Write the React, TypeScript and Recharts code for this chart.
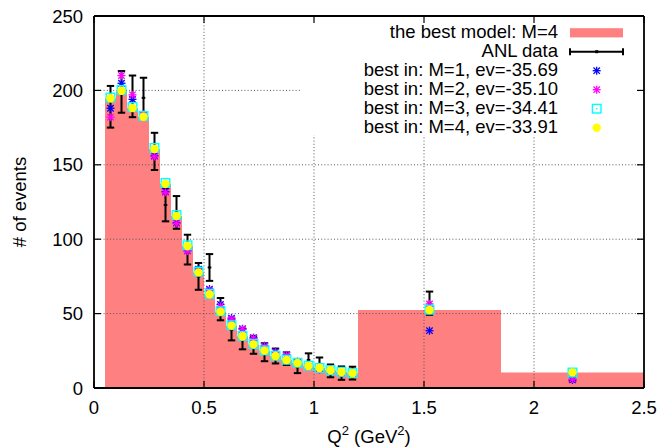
import React from 'react';
import {
  ComposedChart,
  Area,
  Scatter,
  XAxis,
  YAxis,
  ReferenceLine,
  ErrorBar,
  Legend,
} from 'recharts';

// Q^2 bin edges (GeV^2): 0.05-wide bins up to 1.2, then two wide bins
const binEdges = [
  0.05, 0.1, 0.15, 0.2, 0.25, 0.3, 0.35, 0.4, 0.45, 0.5, 0.55, 0.6, 0.65, 0.7,
  0.75, 0.8, 0.85, 0.9, 0.95, 1.0, 1.05, 1.1, 1.15, 1.2, 1.85, 2.5,
];

// best model (M=4) prediction per bin
const modelCounts = [
  194.7, 199.8, 188.2, 182.3, 160.6, 137.2, 115.6, 95.4, 77.7, 63.0, 51.3, 41.9,
  34.8, 29.3, 25.1, 21.5, 18.8, 16.8, 14.8, 13.4, 11.9, 10.8, 9.9, 52.4, 10.5,
];

// ANL measurement and its uncertainty per bin
const anlCounts = [
  189, 199, 196, 195, 159, 123, 118, 93, 75, 81, 53, 39, 33, 29, 24, 21.5, 19.7,
  14, 18.8, 16, 11.5, 10, 10, 57, 7,
];
const anlErrors = [
  14, 14, 14, 13.5, 12.5, 11, 11, 10, 9, 9, 7.5, 7, 7, 6, 6, 5, 4.2, 4, 4.5, 4.5,
  4.3, 4.5, 4.3, 7.8, 2.5,
];

// best fits for each number of model parameters M
const bestM1 = [
  188, 204.8, 194, 183.5, 156, 132, 111, 92.3, 79.8, 66.5, 56.2, 47, 39.8, 33.8,
  28.4, 24.4, 22.2, 17.7, 14.5, 12.5, 11.5, 10, 9.3, 38.5, 5.4,
];
const bestM2 = [
  182, 210, 197, 184, 155.5, 131.5, 110.6, 92, 78.5, 65.5, 54.9, 46.2, 39.5, 33.5,
  28, 24, 22, 17.5, 14.3, 12.3, 11.3, 10, 9.2, 56.5, 6,
];
const bestM3 = [
  195.2, 200.3, 188.8, 182.8, 161.3, 137.8, 116.2, 95.9, 78.2, 63.3, 51.6, 42.2,
  35.0, 29.5, 25.3, 21.7, 19.0, 17.0, 15.0, 13.5, 12.0, 10.9, 10.0, 52.6, 10.4,
];
const bestM4 = modelCounts;

const evidences = [-35.69, -35.1, -34.41, -33.91];

const xTicks = [0, 0.5, 1, 1.5, 2, 2.5];
const yTicks = [0, 50, 100, 150, 200, 250];

const FONT = "'Liberation Sans', Arial, Helvetica, sans-serif";
const FS = 18.5;
const TICK_LEN = 7;
const PINK = '#ff8080';
const GRID = { stroke: '#555', strokeWidth: 1, strokeDasharray: '1 2.2' };

const centers = binEdges.slice(0, -1).map((e, i) => (e + binEdges[i + 1]) / 2);
const histData = binEdges.map((x, i) => ({
  x,
  y: modelCounts[Math.min(i, modelCounts.length - 1)],
}));
const toPoints = (vals: number[]) => centers.map((x, i) => ({ x, y: vals[i] }));
const anlData = centers.map((x, i) => ({ x, y: anlCounts[i], err: anlErrors[i] }));

// ---- axis ticks (inward, gnuplot style) ----
const BottomTick = (p: any) => {
  const { x, y, payload } = p;
  const axisY = y - 13;
  return (
    <g>
      <line x1={x} x2={x} y1={axisY} y2={axisY - TICK_LEN} stroke="#000" strokeWidth={1.2} />
      <text x={x} y={y + 13} textAnchor="middle" fontSize={FS} fontFamily={FONT} fill="#000">
        {String(payload.value)}
      </text>
    </g>
  );
};
const TopTick = (p: any) => {
  const { x, y } = p;
  return <line x1={x} x2={x} y1={y} y2={y + TICK_LEN} stroke="#000" strokeWidth={1.2} />;
};
const LeftTick = (p: any) => {
  const { x, y, payload } = p;
  const axisX = x + 11;
  return (
    <g>
      <line x1={axisX} x2={axisX + TICK_LEN} y1={y} y2={y} stroke="#000" strokeWidth={1.2} />
      <text x={x} y={y + 6.6} textAnchor="end" fontSize={FS} fontFamily={FONT} fill="#000">
        {String(payload.value)}
      </text>
    </g>
  );
};
const RightTick = (p: any) => {
  const { x, y } = p;
  return <line x1={x} x2={x - TICK_LEN} y1={y} y2={y} stroke="#000" strokeWidth={1.2} />;
};

// ---- axis titles ----
const YTitle = (p: any) => {
  const vb = p.viewBox || { x: 0, y: 16, width: 94, height: 372 };
  const cx = vb.x + 26;
  const cy = vb.y + vb.height / 2;
  return (
    <text
      x={cx}
      y={cy}
      transform={`rotate(-90, ${cx}, ${cy})`}
      textAnchor="middle"
      fontSize={FS}
      fontFamily={FONT}
      fill="#000"
    >
      # of events
    </text>
  );
};
const XTitle = (p: any) => {
  const vb = p.viewBox || { x: 94, y: 388, width: 550, height: 60 };
  const cx = vb.x + vb.width / 2;
  const cy = vb.y + 55;
  return (
    <text x={cx} y={cy} textAnchor="middle" fontSize={FS} fontFamily={FONT} fill="#000">
      <tspan>Q</tspan>
      <tspan dy={-8} fontSize={13}>2</tspan>
      <tspan dy={8}> (GeV</tspan>
      <tspan dy={-8} fontSize={13}>2</tspan>
      <tspan dy={8}>)</tspan>
    </text>
  );
};

// ---- point markers ----
const makeStar = (color: string) => (p: any) => {
  const { cx, cy } = p;
  if (cx == null || cy == null) return <g />;
  const r = 4;
  return (
    <g stroke={color} strokeWidth={1.3}>
      <line x1={cx - r} x2={cx + r} y1={cy} y2={cy} />
      <line x1={cx} x2={cx} y1={cy - r} y2={cy + r} />
      <line x1={cx - r * 0.8} x2={cx + r * 0.8} y1={cy - r * 0.8} y2={cy + r * 0.8} />
      <line x1={cx - r * 0.8} x2={cx + r * 0.8} y1={cy + r * 0.8} y2={cy - r * 0.8} />
    </g>
  );
};
const BoxMark = (p: any) => {
  const { cx, cy } = p;
  if (cx == null || cy == null) return <g />;
  return (
    <g>
      <rect x={cx - 4.3} y={cy - 4.3} width={8.6} height={8.6} fill="none" stroke="#00ffff" strokeWidth={1.4} />
      <rect x={cx - 0.7} y={cy - 0.7} width={1.4} height={1.4} fill="#00ffff" />
    </g>
  );
};
const DotMark = (p: any) => {
  const { cx, cy } = p;
  if (cx == null || cy == null) return <g />;
  return <circle cx={cx} cy={cy} r={4.2} fill="#ffff00" />;
};
const DataMark = (p: any) => {
  const { cx, cy } = p;
  if (cx == null || cy == null) return <g />;
  return <rect x={cx - 1.8} y={cy - 1} width={3.6} height={2} fill="#000" />;
};

// ---- key ----
const legendLabels = [
  'the best model: M=4',
  'ANL data',
  ...evidences.map((ev, i) => `best in: M=${i + 1}, ev=${ev.toFixed(2)}`),
];
const KeyBox = () => {
  const textRight = 258;
  const symX = 296.7;
  return (
    <svg width={344} height={122} style={{ display: 'block' }}>
      {legendLabels.map((label, i) => {
        const base = 22.3 + 19 * i;
        const cy = base - 5.6;
        let sym: React.ReactNode = null;
        if (i === 0) {
          sym = <rect x={270} y={cy - 4.5} width={53} height={9.2} fill={PINK} />;
        } else if (i === 1) {
          sym = (
            <g stroke="#000" strokeWidth={2}>
              <line x1={270} x2={323} y1={cy} y2={cy} />
              <line x1={270} x2={270} y1={cy - 3.5} y2={cy + 3.5} />
              <line x1={323} x2={323} y1={cy - 3.5} y2={cy + 3.5} />
              <line x1={symX - 1.5} x2={symX + 1.5} y1={cy} y2={cy} strokeWidth={3} />
            </g>
          );
        } else if (i === 2) {
          sym = makeStar('#0000ff')({ cx: symX, cy });
        } else if (i === 3) {
          sym = makeStar('#ff00ff')({ cx: symX, cy });
        } else if (i === 4) {
          sym = <BoxMark cx={symX} cy={cy} />;
        } else {
          sym = <DotMark cx={symX} cy={cy} />;
        }
        return (
          <g key={label}>
            <text x={textRight} y={base} textAnchor="end" fontSize={FS} fontFamily={FONT} fill="#000">
              {label}
            </text>
            {sym}
          </g>
        );
      })}
    </svg>
  );
};

// grid: dotted lines, kept clear of the key area
const KEY_X_LEFT = 0.936;
const KEY_Y_BOTTOM = 170;
const gridSegments: { x1: number; y1: number; x2: number; y2: number }[] = [
  ...xTicks.slice(1, -1).map((v) => ({ x1: v, y1: 0, x2: v, y2: v < KEY_X_LEFT ? 250 : KEY_Y_BOTTOM })),
  ...yTicks.slice(1, -1).map((v) => ({ x1: 0, y1: v, x2: v > KEY_Y_BOTTOM ? KEY_X_LEFT : 2.5, y2: v })),
];

export default function App() {
  return (
    <div style={{ position: 'absolute', left: 0, top: 0, width: 661, height: 448, background: '#fff' }}>
      <ComposedChart width={661} height={448} margin={{ top: 15, right: 16, bottom: 0, left: 0 }}>
        <XAxis
          xAxisId="b"
          dataKey="x"
          type="number"
          domain={[0, 2.5]}
          ticks={xTicks}
          interval={0}
          allowDataOverflow
          height={60}
          tickSize={0}
          tickMargin={13}
          tickLine={false}
          tick={<BottomTick />}
          axisLine={{ stroke: '#000', strokeWidth: 1.8 }}
          label={<XTitle />}
        />
        <XAxis
          xAxisId="t"
          orientation="top"
          dataKey="x"
          type="number"
          domain={[0, 2.5]}
          ticks={xTicks}
          interval={0}
          allowDataOverflow
          height={1}
          tickSize={0}
          tickMargin={0}
          tickLine={false}
          tick={<TopTick />}
          axisLine={{ stroke: '#000', strokeWidth: 1.8 }}
        />
        <YAxis
          yAxisId="l"
          type="number"
          domain={[0, 250]}
          ticks={yTicks}
          interval={0}
          allowDataOverflow
          width={94}
          tickSize={0}
          tickMargin={11}
          tickLine={false}
          tick={<LeftTick />}
          axisLine={{ stroke: '#000', strokeWidth: 1.8 }}
          label={<YTitle />}
        />
        <YAxis
          yAxisId="r"
          orientation="right"
          type="number"
          domain={[0, 250]}
          ticks={yTicks}
          interval={0}
          allowDataOverflow
          width={1}
          tickSize={0}
          tickMargin={0}
          tickLine={false}
          tick={<RightTick />}
          axisLine={{ stroke: '#000', strokeWidth: 1.8 }}
        />

        {gridSegments.map((s, i) => (
          <ReferenceLine
            key={`g${i}`}
            xAxisId="b"
            yAxisId="l"
            segment={[
              { x: s.x1, y: s.y1 },
              { x: s.x2, y: s.y2 },
            ]}
            {...GRID}
          />
        ))}

        <Area
          xAxisId="b"
          yAxisId="l"
          data={histData}
          dataKey="y"
          type="stepAfter"
          fill={PINK}
          fillOpacity={1}
          stroke="none"
          activeDot={false}
          dot={false}
          isAnimationActive={false}
        />

        <Scatter xAxisId="b" yAxisId="l" data={anlData} dataKey="y" shape={<DataMark />} isAnimationActive={false}>
          <ErrorBar dataKey="err" direction="y" width={3.7} stroke="#000" strokeWidth={2} isAnimationActive={false} />
        </Scatter>
        <Scatter xAxisId="b" yAxisId="l" data={toPoints(bestM1)} dataKey="y" shape={makeStar('#0000ff')} isAnimationActive={false} />
        <Scatter xAxisId="b" yAxisId="l" data={toPoints(bestM2)} dataKey="y" shape={makeStar('#ff00ff')} isAnimationActive={false} />
        <Scatter xAxisId="b" yAxisId="l" data={toPoints(bestM3)} dataKey="y" shape={<BoxMark />} isAnimationActive={false} />
        <Scatter xAxisId="b" yAxisId="l" data={toPoints(bestM4)} dataKey="y" shape={<DotMark />} isAnimationActive={false} />

        <Legend
          layout="horizontal"
          verticalAlign="middle"
          align="center"
          wrapperStyle={{ left: 300, top: 16, width: 344, height: 122, margin: 0, padding: 0 }}
          content={() => <KeyBox />}
        />
      </ComposedChart>
    </div>
  );
}
